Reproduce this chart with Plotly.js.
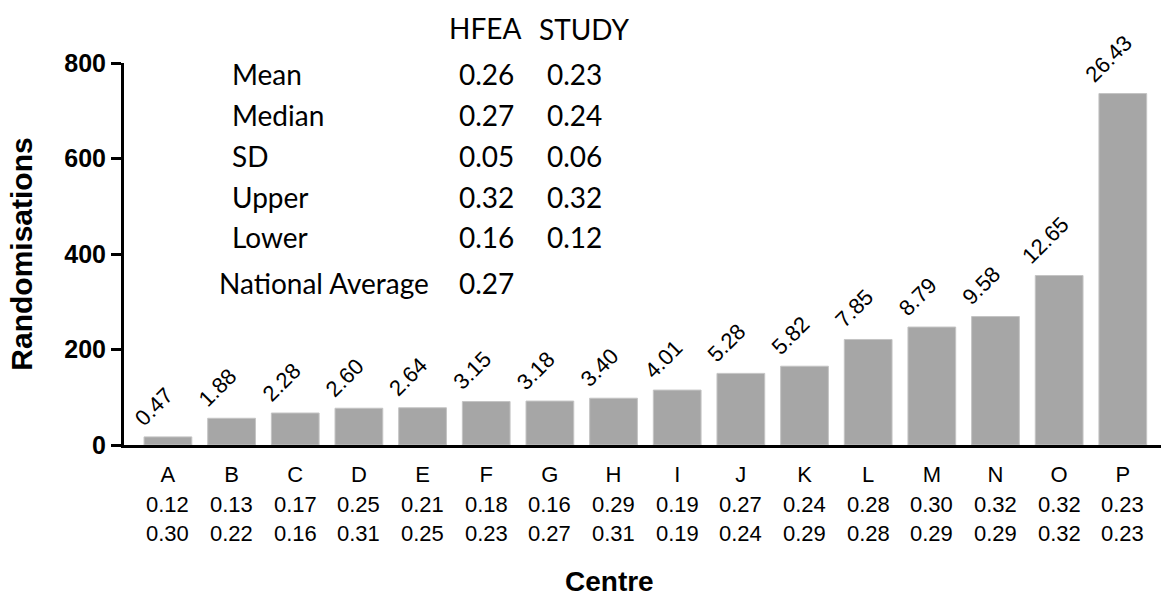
<!DOCTYPE html>
<html>
<head>
<meta charset="utf-8">
<script src="https://cdn.plot.ly/plotly-3.0.1.min.js"></script>
<style>
  html, body { margin: 0; padding: 0; background: #fff; }
  #chart { width: 1161px; height: 599px; }
</style>
</head>
<body>
<div id="chart"></div>
<script>
// ---- data ----
const centres = ["A","B","C","D","E","F","G","H","I","J","K","L","M","N","O","P"];
const randomisations = [17, 56, 67, 77, 78, 91, 92, 98, 115, 150, 165, 221, 247, 269, 355, 736];
const percentLabels = ["0.47","1.88","2.28","2.60","2.64","3.15","3.18","3.40","4.01","5.28","5.82","7.85","8.79","9.58","12.65","26.43"];
const hfeaRates = ["0.12","0.13","0.17","0.25","0.21","0.18","0.16","0.29","0.19","0.27","0.24","0.28","0.30","0.32","0.32","0.23"];
const studyRates = ["0.30","0.22","0.16","0.31","0.25","0.23","0.27","0.31","0.19","0.24","0.29","0.28","0.29","0.29","0.32","0.23"];

const statNames = ["Mean","Median","SD","Upper","Lower","National Average"];
const hfeaStats = ["0.26","0.27","0.05","0.32","0.16","0.27"];
const studyStats = ["0.23","0.24","0.06","0.32","0.12",""];
const statHeaders = ["HFEA","STUDY"];
const xTitle = "Centre";
const yTitle = "Randomisations";

// ---- geometry helpers (plot area in px) ----
const W = 1161, H = 599;
const M = {l: 124, r: 0, t: 63, b: 154};
const PW = W - M.l - M.r, PH = H - M.t - M.b;
const px2x = p => (p - M.l) / PW;
const py2y = p => (H - M.b - p) / PH;

const ARIAL = "Liberation Sans, Arial, sans-serif";
const TABLEFONT = "Lato, Carlito, Calibri, Open Sans, sans-serif";

const annotations = [];

// rotated percentage labels above bars
centres.forEach((c, i) => {
  annotations.push({
    x: i, y: randomisations[i], xref: "x", yref: "y",
    text: percentLabels[i], showarrow: false, textangle: -45,
    xanchor: "center", yanchor: "bottom", xshift: -14, yshift: 4,
    font: {family: ARIAL, size: 22, color: "#000"}
  });
});

// second and third rows beneath category letters
centres.forEach((c, i) => {
  annotations.push({
    x: i, y: 0, xref: "x", yref: "paper", text: hfeaRates[i], showarrow: false,
    xanchor: "center", yanchor: "middle", yshift: -59,
    font: {family: ARIAL, size: 22, color: "#000"}
  });
  annotations.push({
    x: i, y: 0, xref: "x", yref: "paper", text: studyRates[i], showarrow: false,
    xanchor: "center", yanchor: "middle", yshift: -88,
    font: {family: ARIAL, size: 22, color: "#000"}
  });
});

// x axis title (offset left of the axis centre, as in the original)
annotations.push({
  x: px2x(609), y: py2y(581), xref: "paper", yref: "paper", text: xTitle, showarrow: false,
  xanchor: "center", yanchor: "middle",
  font: {family: ARIAL, size: 28, weight: "bold", color: "#000"}
});

// stats table
const rowY = [74, 115, 156, 197, 237, 283];
annotations.push({x: px2x(447), y: py2y(28), xref: "paper", yref: "paper", text: statHeaders[0],
  showarrow: false, xanchor: "left", yanchor: "middle", font: {family: TABLEFONT, size: 28, color: "#000"}});
annotations.push({x: px2x(537), y: py2y(29), xref: "paper", yref: "paper", text: statHeaders[1],
  showarrow: false, xanchor: "left", yanchor: "middle", font: {family: TABLEFONT, size: 28, color: "#000"}});
statNames.forEach((n, k) => {
  const lx = (k === statNames.length - 1) ? 217 : 230;
  annotations.push({x: px2x(lx), y: py2y(rowY[k]), xref: "paper", yref: "paper", text: n,
    showarrow: false, xanchor: "left", yanchor: "middle", font: {family: TABLEFONT, size: 28, color: "#000"}});
  annotations.push({x: px2x(457), y: py2y(rowY[k]), xref: "paper", yref: "paper", text: hfeaStats[k],
    showarrow: false, xanchor: "left", yanchor: "middle", font: {family: TABLEFONT, size: 28, color: "#000"}});
  if (studyStats[k]) {
    annotations.push({x: px2x(545), y: py2y(rowY[k]), xref: "paper", yref: "paper", text: studyStats[k],
      showarrow: false, xanchor: "left", yanchor: "middle", font: {family: TABLEFONT, size: 28, color: "#000"}});
  }
});

const trace = {
  type: "bar",
  x: centres.map((c, i) => i),
  y: randomisations,
  width: 0.75,
  marker: {color: "#a6a6a6", line: {color: "#c4c4c4", width: 1}},
  hoverinfo: "x+y"
};

const layout = {
  width: W, height: H,
  margin: M,
  paper_bgcolor: "#fff", plot_bgcolor: "#fff",
  showlegend: false,
  xaxis: {
    range: [-0.69, 15.6],
    tickmode: "array", tickvals: centres.map((c, i) => i), ticktext: centres,
    ticks: "outside", ticklen: 8, tickcolor: "rgba(0,0,0,0)",
    tickfont: {family: ARIAL, size: 22, color: "#000"},
    showline: true, linecolor: "#000", linewidth: 3,
    showgrid: false, zeroline: false
  },
  yaxis: {
    range: [0, 800],
    tickmode: "array", tickvals: [0, 200, 400, 600, 800],
    ticks: "outside", ticklen: 10, tickwidth: 3, tickcolor: "#000",
    tickfont: {family: ARIAL, size: 25, weight: "bold", color: "#000"},
    showline: true, linecolor: "#000", linewidth: 3,
    showgrid: false, zeroline: false,
    title: {text: yTitle, font: {family: ARIAL, size: 30, weight: "bold", color: "#000"}, standoff: 23}
  },
  annotations: annotations
};

Plotly.newPlot("chart", [trace], layout, {displayModeBar: false, staticPlot: true});
</script>
</body>
</html>
